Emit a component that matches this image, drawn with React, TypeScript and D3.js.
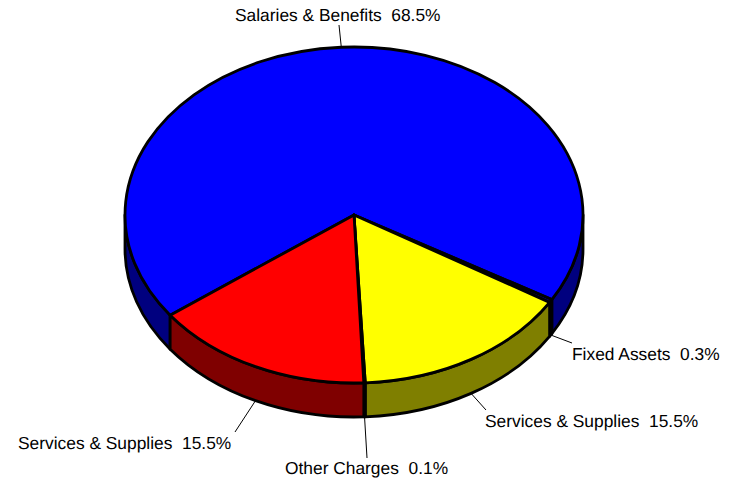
import React from "react";
import * as d3 from "d3";

const categories = ["Salaries & Benefits", "Fixed Assets", "Services & Supplies", "Other Charges", "Services & Supplies"];
const shares = [68.5, 0.3, 15.5, 0.1, 15.5];
const topColors = ["#0000ff", "#0000ff", "#ffff00", "#000000", "#ff0000"];
const sideColors = ["#00007f", "#00007f", "#7f7f00", "#000000", "#7f0000"];

// Label anchors and leader ends, one per category.
const labelX = [235, 572, 485, 285, 18];
const labelY = [21, 360, 427, 474, 449];
const leaderEndX = [339, 572, 486, 367, 235];
const leaderEndY = [25, 343, 410, 458, 432];

const W = 734;
const H = 480;
const cx = 354;
const cy = 215;
const rx = 229;
const ry = 168;
const depth = 34;
const firstAngle = (143.4 * Math.PI) / 180;

// Angles run clockwise on screen from the east, in the flattened circle of the pie top.
const px = d3.scaleLinear().domain([-1, 1]).range([cx - rx, cx + rx]);
const py = d3.scaleLinear().domain([-1, 1]).range([cy - ry, cy + ry]);
const ptX = (a: number) => px(Math.cos(a));
const ptY = (a: number, dz = 0) => py(Math.sin(a)) + dz;

const pie = d3
  .pie<number>()
  .sort(null)
  .startAngle(firstAngle)
  .endAngle(firstAngle + 2 * Math.PI);
const arcs = pie(shares);

function topPath(a0: number, a1: number) {
  const large = a1 - a0 > Math.PI ? 1 : 0;
  return `M${cx},${cy}L${ptX(a0)},${ptY(a0)}A${rx},${ry} 0 ${large} 1 ${ptX(a1)},${ptY(a1)}Z`;
}

function sidePath(a0: number, a1: number) {
  return (
    `M${ptX(a0)},${ptY(a0)}A${rx},${ry} 0 0 1 ${ptX(a1)},${ptY(a1)}` +
    `L${ptX(a1)},${ptY(a1, depth)}A${rx},${ry} 0 0 0 ${ptX(a0)},${ptY(a0, depth)}Z`
  );
}

// The wall is visible only on the front half of the ellipse (0..PI, modulo a full turn).
function visibleRanges(a0: number, a1: number): [number, number][] {
  const out: [number, number][] = [];
  for (const k of [0, 1]) {
    const lo = Math.max(a0, k * 2 * Math.PI);
    const hi = Math.min(a1, k * 2 * Math.PI + Math.PI);
    if (hi > lo) out.push([lo, hi]);
  }
  return out;
}

export default function App() {
  return (
    <svg
      width={W}
      height={H}
      viewBox={`0 0 ${W} ${H}`}
      style={{ position: "absolute", left: 0, top: 0, background: "#fff" }}
      fontFamily="'Liberation Sans', Arial, sans-serif"
      fontSize={17.38}
      textRendering="geometricPrecision"
    >
      <g stroke="#000" strokeWidth={1}>
        {arcs.map((d, i) => {
          const mid = (d.startAngle + d.endAngle) / 2;
          const dz = Math.sin(mid) > 0 ? depth : 0;
          return (
            <line key={i} x1={ptX(mid)} y1={ptY(mid, dz)} x2={leaderEndX[i]} y2={leaderEndY[i]} />
          );
        })}
      </g>
      <g stroke="#000" strokeWidth={2.8} strokeLinejoin="round">
        {arcs.map((d, i) =>
          visibleRanges(d.startAngle, d.endAngle).map(([a, b], j) => (
            <path key={`${i}-${j}`} d={sidePath(a, b)} fill={sideColors[i]} />
          ))
        )}
        {arcs.map((d, i) => (
          <path key={i} d={topPath(d.startAngle, d.endAngle)} fill={topColors[i]} />
        ))}
      </g>
      <g fill="#000">
        {arcs.map((d, i) => (
          <text key={i} x={labelX[i]} y={labelY[i]} xmlSpace="preserve">
            {`${categories[i]}  ${shares[i].toFixed(1)}%`}
          </text>
        ))}
      </g>
    </svg>
  );
}
